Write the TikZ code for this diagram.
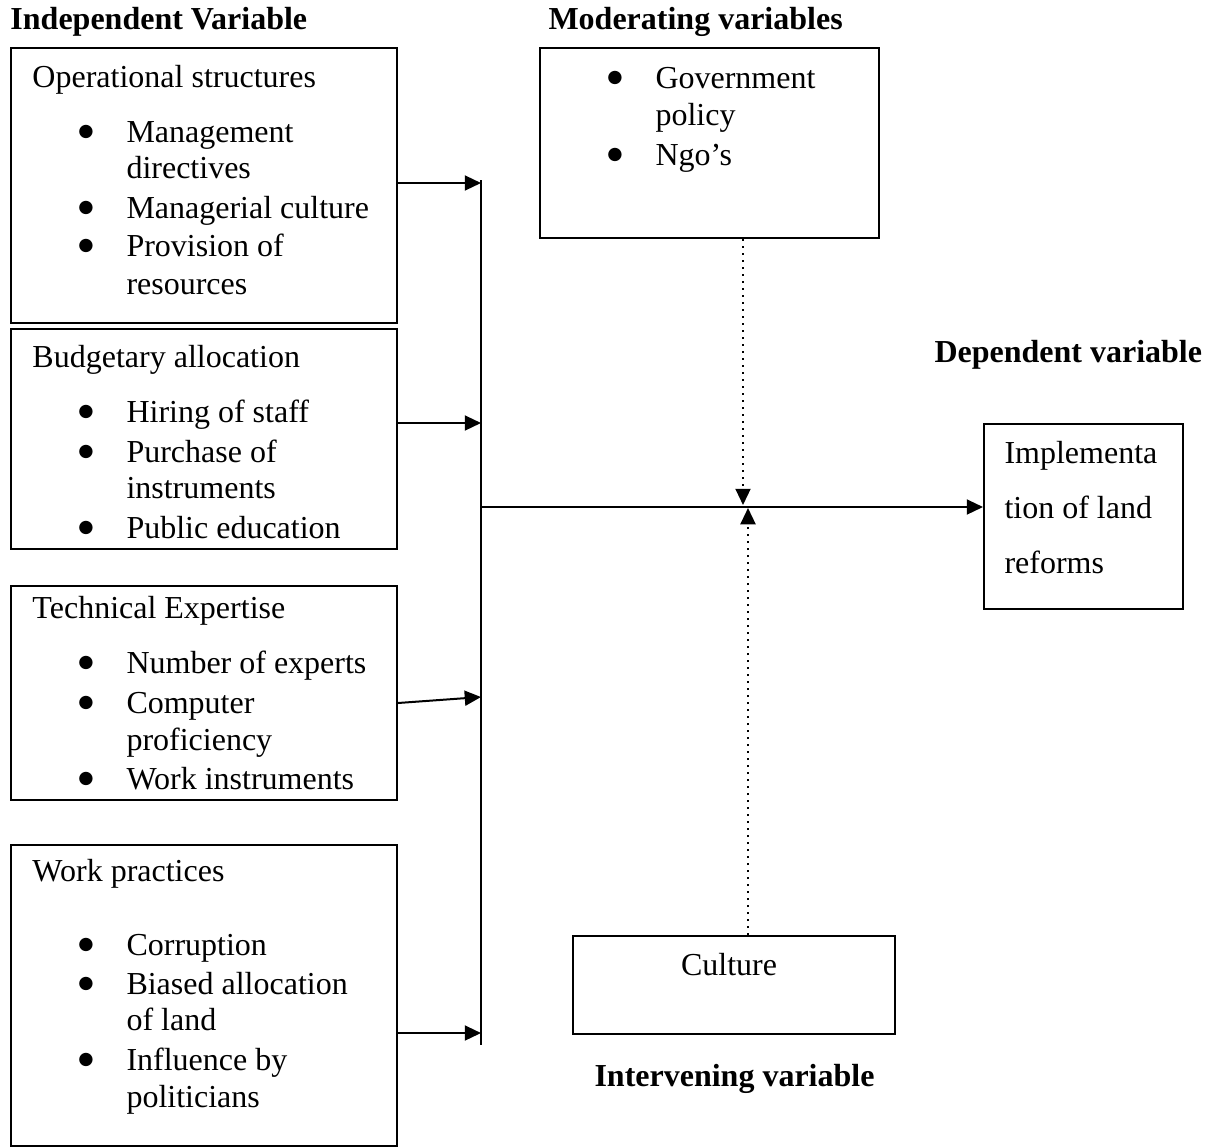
\documentclass[tikz,border=0pt]{standalone}
\usepackage{fontspec}
\setmainfont{Liberation Serif}
\newfontfamily\symfont{DejaVu Sans}
\usetikzlibrary{arrows.meta,positioning}

\begin{document}
\begin{tikzpicture}[x=0.4pt,y=-0.4pt,
    box/.style={draw,line width=0.8pt,inner sep=0pt,anchor=north west},
    txt/.style={anchor=base west,inner sep=0pt,font=\fontsize{12.8}{15}\selectfont},
    dot/.style={anchor=center,inner sep=0pt,yshift=4pt,font=\symfont\fontsize{7}{8}\selectfont},
    mid/.style={anchor=base,inner sep=0pt,font=\fontsize{12.8}{15}\selectfont},
    head/.style={anchor=base west,inner sep=0pt,font=\fontsize{12.8}{15}\selectfont\bfseries},
    arr/.style={line width=0.8pt,-{Triangle[length=6.5pt,width=6pt]}},
    darr/.style={arr,dotted}]
    \useasboundingbox (0,0) rectangle (1217,1146);

    % Independent variables
    \node[head] (hind) at (10,29) {Independent Variable};
    \node[box,minimum width=154.4pt,minimum height=110pt] (ops) at (10,47) {};
    \node[txt] (opsT) at (32,87) {Operational structures};
    \foreach \y/\t [count=\i] in {142/Management,178/directives,218/Managerial culture,256/Provision of,294/resources}
        \node[txt] (ops\i) at (126,\y) {\t};
    \foreach \y [count=\i] in {142,218,256} \node[dot] (opsB\i) at (86,\y) {●};

    \node[box,minimum width=154.4pt,minimum height=88pt] (bud) at (10,328) {};
    \node[txt] (budT) at (32,367) {Budgetary allocation};
    \foreach \y/\t [count=\i] in {422/Hiring of staff,462/Purchase of,498/instruments,538/Public education}
        \node[txt] (bud\i) at (126,\y) {\t};
    \foreach \y [count=\i] in {422,462,538} \node[dot] (budB\i) at (86,\y) {●};

    \node[box,minimum width=154.4pt,minimum height=85.6pt] (tech) at (10,585) {};
    \node[txt] (techT) at (32,618) {Technical Expertise};
    \foreach \y/\t [count=\i] in {673/Number of experts,713/Computer,750/proficiency,789/Work instruments}
        \node[txt] (tech\i) at (126,\y) {\t};
    \foreach \y [count=\i] in {673,713,789} \node[dot] (techB\i) at (86,\y) {●};

    \node[box,minimum width=154.4pt,minimum height=120.4pt] (work) at (10,844) {};
    \node[txt] (workT) at (32,881) {Work practices};
    \foreach \y/\t [count=\i] in {955/Corruption,994/Biased allocation,1030/of land,1070/Influence by,1107/politicians}
        \node[txt] (work\i) at (126,\y) {\t};
    \foreach \y [count=\i] in {955,994,1070} \node[dot] (workB\i) at (86,\y) {●};

    % Moderating variables
    \node[head] (hmod) at (548,29) {Moderating variables};
    \node[box,minimum width=135.6pt,minimum height=76pt] (moder) at (539,47) {};
    \foreach \y/\t [count=\i] in {88/Government,125/policy,165/Ngo’s}
        \node[txt] (moder\i) at (655,\y) {\t};
    \foreach \y [count=\i] in {88,165} \node[dot] (moderB\i) at (615,\y) {●};

    % Dependent variable
    \node[head] (hdep) at (934,362) {Dependent variable};
    \node[box,minimum width=79.6pt,minimum height=74pt] (dep) at (983,423) {};
    \foreach \y/\t [count=\i] in {463/Implementa,518/tion of land,573/reforms}
        \node[txt] (dep\i) at (1004,\y) {\t};

    % Intervening variable
    \node[box,minimum width=128.8pt,minimum height=39.2pt] (cult) at (572,935) {};
    \node[mid] (cultT) at (729,975) {Culture};
    \node[head] (hint) at (594,1086) {Intervening variable};

    % connectors
    \coordinate (busTop) at (481,180);
    \coordinate (busBot) at (481,1045);
    \coordinate (b1) at (481,183);
    \coordinate (b2) at (481,423);
    \coordinate (b3) at (481,697);
    \coordinate (b4) at (481,1033);
    \coordinate (hub) at (481,507);
    \coordinate (mdown) at (743,505);
    \coordinate (cup) at (748,508);
    \draw[line width=0.8pt] (busTop) -- (busBot);
    \draw[arr] (b1 -| ops.east) -- (b1);
    \draw[arr] (b2 -| bud.east) -- (b2);
    \draw[arr] (tech.east |- 0,703) -- (b3);
    \draw[arr] (b4 -| work.east) -- (b4);
    \draw[arr] (hub) -- (hub -| dep.west);
    \draw[darr] (mdown |- moder.south) -- (mdown);
    \draw[darr] (cup |- cult.north) -- (cup);
\end{tikzpicture}
\end{document}
